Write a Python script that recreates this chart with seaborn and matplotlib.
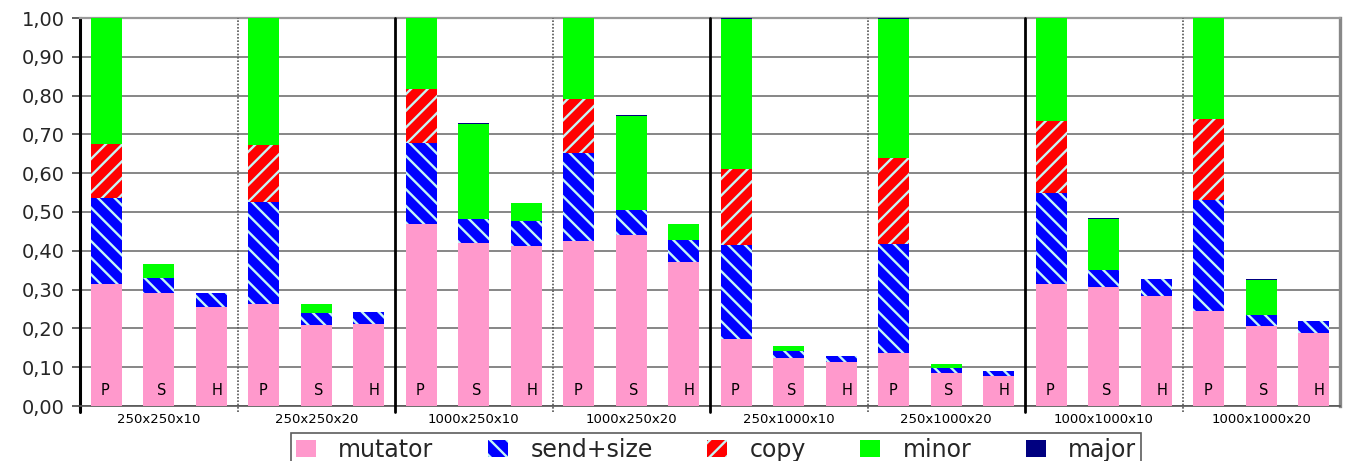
import matplotlib
matplotlib.use("Agg")
import matplotlib.pyplot as plt
from matplotlib.patches import Patch
from matplotlib.ticker import FuncFormatter, MultipleLocator
import numpy as np
import pandas as pd
import seaborn as sns

# ---- data -------------------------------------------------------------
groups = ["250x250x10", "250x250x20", "1000x250x10", "1000x250x20",
          "250x1000x10", "250x1000x20", "1000x1000x10", "1000x1000x20"]
variants = ["P", "S", "H"]
components = ["mutator", "send+size", "copy", "minor", "major"]

# one entry per bar, in group order P, S, H
mutator = [0.314, 0.291, 0.255, 0.264, 0.209, 0.212,
           0.470, 0.420, 0.412, 0.425, 0.442, 0.372,
           0.173, 0.124, 0.113, 0.136, 0.085, 0.077,
           0.315, 0.307, 0.284, 0.246, 0.207, 0.188]
send_size = [0.222, 0.039, 0.036, 0.262, 0.031, 0.030,
             0.209, 0.061, 0.065, 0.226, 0.063, 0.056,
             0.242, 0.018, 0.016, 0.282, 0.014, 0.013,
             0.234, 0.044, 0.043, 0.286, 0.028, 0.031]
copy = [0.139, 0.000, 0.000, 0.147, 0.000, 0.000,
        0.138, 0.000, 0.000, 0.140, 0.000, 0.000,
        0.196, 0.000, 0.000, 0.222, 0.000, 0.000,
        0.186, 0.000, 0.000, 0.208, 0.000, 0.000]
minor = [0.325, 0.036, 0.000, 0.327, 0.024, 0.000,
         0.183, 0.247, 0.046, 0.209, 0.242, 0.041,
         0.386, 0.013, 0.000, 0.357, 0.009, 0.000,
         0.265, 0.131, 0.000, 0.260, 0.090, 0.000]
major = [0.000, 0.000, 0.000, 0.000, 0.000, 0.000,
         0.000, 0.002, 0.000, 0.000, 0.003, 0.000,
         0.003, 0.000, 0.000, 0.003, 0.000, 0.000,
         0.000, 0.002, 0.000, 0.000, 0.002, 0.000]

# ---- styling ----------------------------------------------------------
sns.set_style("white")
plt.rcParams["font.family"] = ["DejaVu Sans"]
plt.rcParams["hatch.linewidth"] = 1.7
plt.rcParams["hatch.color"] = "#C4F6F6"

colors = {"mutator": "#FF99CC", "send+size": "#0000FF", "copy": "#FF0000",
          "minor": "#00FF00", "major": "#000080"}
hatches = {"mutator": None, "send+size": "\\\\", "copy": "//",
           "minor": None, "major": None}
stripe = "#C4F6F6"

bar_ids = [f"{g}-{v}" for g in groups for v in variants]
parts = pd.DataFrame({"bar": bar_ids, "mutator": mutator, "send+size": send_size,
                      "copy": copy, "minor": minor, "major": major})
cum = parts[components].cumsum(axis=1)

fig = plt.figure(figsize=(13.51, 4.61), dpi=100)
ax = fig.add_axes([80 / 1351, 1 - 406 / 461, 1260 / 1351, 388 / 461])

# stacked bars: draw cumulative totals from the top component down
for comp in reversed(components):
    d = pd.DataFrame({"bar": bar_ids, "top": cum[comp].values})
    sns.barplot(data=d, x="bar", y="top", order=bar_ids, color=colors[comp],
                saturation=1, width=0.59, errorbar=None, hatch=hatches[comp],
                edgecolor=stripe, linewidth=0, ax=ax, zorder=3)

ax.set_xlim(-0.5, len(bar_ids) - 0.5)
ax.set_ylim(0, 1.0)
ax.set_xlabel("")
ax.set_ylabel("")
ax.set_xticks([])

# y axis
ax.yaxis.set_major_locator(MultipleLocator(0.1))
ax.yaxis.set_major_formatter(FuncFormatter(lambda v, _: f"{v:.2f}".replace(".", ",")))
ax.tick_params(axis="y", which="major", left=True, length=6, width=1.2,
               color="#444444", pad=5, labelsize=14)
ax.grid(axis="y", color="#666666", linewidth=1.1, zorder=0)
ax.set_axisbelow(True)

for side, sp in ax.spines.items():
    sp.set_visible(True)
ax.spines["left"].set_color("black")
ax.spines["left"].set_linewidth(2.2)
ax.spines["bottom"].set_color("#555555")
ax.spines["bottom"].set_linewidth(1.2)
ax.spines["top"].set_color("#999999")
ax.spines["top"].set_linewidth(1.6)
ax.spines["right"].set_color("#888888")
ax.spines["right"].set_linewidth(2.4)

# group separators (solid between pairs, dotted inside a pair)
for k in range(1, len(groups)):
    xs = k * 3 - 0.5
    if k % 2 == 0:
        ax.plot([xs, xs], [-0.016, 1.0], color="black", linewidth=2.0,
                clip_on=False, zorder=4)
    else:
        ax.plot([xs, xs], [-0.016, 1.0], color="#555555", linewidth=1.2,
                linestyle=(0, (1, 1)), clip_on=False, zorder=4)
ax.plot([-0.5, -0.5], [-0.016, 0], color="black", linewidth=2.2, clip_on=False)

# P / S / H labels inside the bars, group names below the axis
label_shift = {"P": -0.02, "S": 0.05, "H": 0.11}
for i, bid in enumerate(bar_ids):
    v = bid.split("-")[1]
    ax.text(i + label_shift[v], 0.041, v, ha="center", va="center",
            fontsize=10.5, color="black", zorder=5)
for gi, g in enumerate(groups):
    ax.text(gi * 3 + 1, -0.036, g, ha="center", va="center", fontsize=9.5,
            color="black")

# legend
handles = [Patch(facecolor=colors[c], hatch=hatches[c], edgecolor=stripe,
                 linewidth=0, label=c) for c in components]
leg = fig.legend(handles=handles, loc="upper center", ncol=5,
                 bbox_to_anchor=(716 / 1351, 1 - 433 / 461), frameon=True,
                 fontsize=17, handlelength=0.85, handleheight=0.7,
                 handletextpad=0.95, columnspacing=2.3, borderpad=0.2,
                 borderaxespad=0, fancybox=False)
leg.get_frame().set_edgecolor("#333333")
leg.get_frame().set_linewidth(1.2)

fig.savefig("out.png", dpi=100)
